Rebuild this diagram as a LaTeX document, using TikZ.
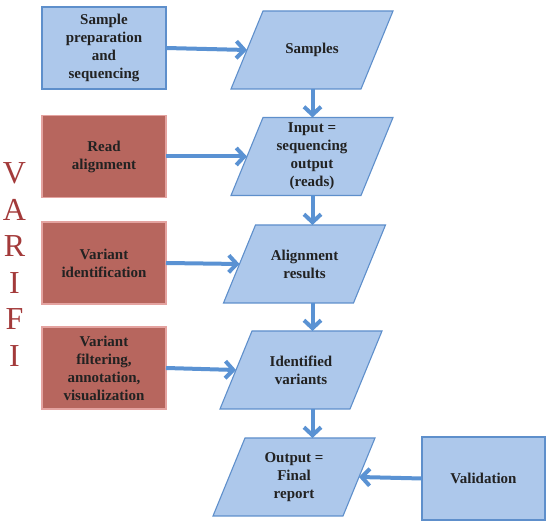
\documentclass[tikz,border=0pt]{standalone}
\usepackage{fontspec}
\setmainfont{Liberation Serif}
\usetikzlibrary{arrows.meta}
\definecolor{bfill}{HTML}{ADC8EB}
\definecolor{bdraw}{HTML}{5E8FCB}
\definecolor{rfill}{HTML}{B7665E}
\definecolor{rdraw}{HTML}{E4A3A0}
\definecolor{arr}{HTML}{5A92D3}
\definecolor{varc}{HTML}{A33A3A}
\definecolor{txt}{HTML}{222222}
\pgfdeclarelayer{bg}
\pgfsetlayers{bg,main}
\begin{document}
\begin{tikzpicture}[x=1pt,y=-1pt,
  box/.style={rectangle, minimum width=124pt, minimum height=82pt, inner sep=0pt, outer sep=0pt,
    align=center, font=\fontsize{15}{18}\selectfont\bfseries, text=txt, line width=1.3pt},
  bluebox/.style={box, fill=bfill, draw=bdraw},
  redbox/.style={box, fill=rfill, draw=rdraw},
  io/.style={rectangle, minimum width=130pt, minimum height=78pt,
    inner sep=0pt, outer sep=0pt,
    align=center, font=\fontsize{15}{18}\selectfont\bfseries, text=txt},
  para/.style={fill=bfill, draw=bdraw, line width=1.1pt, line join=miter},
  flow/.style={draw=arr, line width=4pt, -{Straight Barb[length=8pt,width=17pt]}},
  letter/.style={font=\fontsize{32}{32}\selectfont, text=varc, inner sep=0pt}
]
\useasboundingbox (0,0) rectangle (550,526);

% left column
\node[bluebox] (s1) at (104,48) {Sample\\preparation\\and\\sequencing};
\node[redbox] (r1) at (104,156.5) {Read\\alignment};
\node[redbox] (r2) at (104,263) {Variant\\identification};
\node[redbox] (r3) at (104,368) {Variant\\filtering,\\annotation,\\visualization};

% data column (text nodes; parallelograms drawn behind)
\node[io] (p1) at (312,50) {Samples};
\node[io] (p2) at (312,156.5) {Input =\\sequencing\\output\\(reads)};
\node[io] (p3) at (304.5,264) {Alignment\\results};
\node[io] (p4) at (301,370) {Identified\\variants};
\node[io] (p5) at (294,477) {Output =\\Final\\report};

\begin{pgfonlayer}{bg}
\foreach \p in {p1,p2,p3,p4,p5}{
  \path[para] ([xshift=-16pt]\p.south west) -- ([xshift=-16pt]\p.south east)
    -- ([xshift=16pt]\p.north east) -- ([xshift=16pt]\p.north west) -- cycle;
}
\end{pgfonlayer}

\node[bluebox, minimum width=123pt, minimum height=83pt] (val) at (483.5,478.5) {Validation};

% VARIFI
\node[letter] (l1) at (14.5,173) {V};
\node[letter] (l2) at (14.5,209.6) {A};
\node[letter] (l3) at (14.5,246.2) {R};
\node[letter] (l4) at (14.5,282.8) {I};
\node[letter] (l5) at (14.5,319.4) {F};
\node[letter] (l6) at (14.5,356) {I};

\coordinate (spine) at (312.5,0);

% connectors
\draw[flow] (s1.east) -- (p1.west);
\draw[flow] (r1.east) -- (p2.west);
\draw[flow] (r2.east) -- (p3.west);
\draw[flow] (r3.east) -- (p4.west);
\draw[flow] (p1.south -| spine) -- (p2.north -| spine);
\draw[flow] (p2.south -| spine) -- (p3.north -| spine);
\draw[flow] (p3.south -| spine) -- (p4.north -| spine);
\draw[flow] (p4.south -| spine) -- (p5.north -| spine);
\draw[flow] (val.west) -- (p5.east);
\end{tikzpicture}
\end{document}
